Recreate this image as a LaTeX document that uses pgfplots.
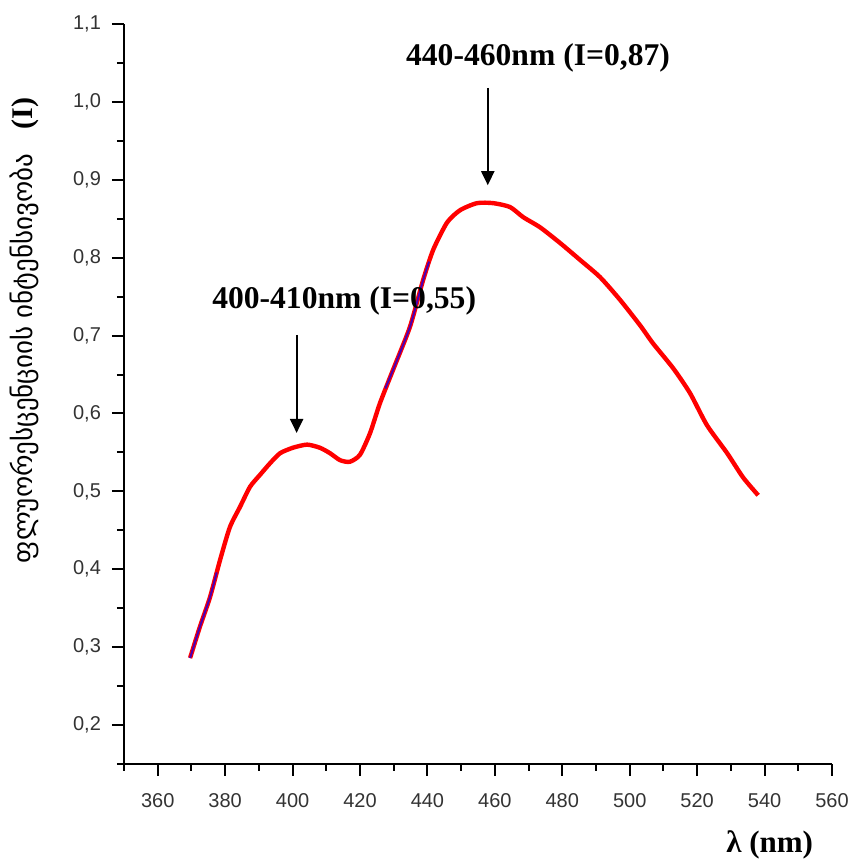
\documentclass[border=0pt]{standalone}
\usepackage{pgfplots}
\pgfplotsset{compat=1.18}
\usepackage{fontspec}
\setmainfont{Liberation Serif}
\setsansfont{Liberation Sans}
\newfontfamily\geofont{DejaVu Sans}
\usetikzlibrary{arrows.meta}
\begin{document}
\begin{tikzpicture}
\begin{axis}[
  name=ax,
  scale only axis,
  width=354pt, height=370pt,
  xmin=350, xmax=560, ymin=0.15, ymax=1.1,
  axis lines=left,
  axis line style={line width=1pt,-},
  tick align=outside,
  major tick length=6pt, minor tick length=3.5pt,
  every tick/.style={black,line width=1pt},
  xtick={360,380,...,560},
  minor xtick={350,370,...,550},
  ytick={0.2,0.3,...,1.1},
  minor ytick={0.15,0.25,...,1.05},
  xticklabel style={font=\sffamily\fontsize{10}{12}\selectfont,text=black!80,yshift=-5pt},
  yticklabel style={font=\sffamily\fontsize{10}{12}\selectfont,text=black!80,xshift=-2pt},
  /pgf/number format/assume math mode=true,
  x tick label style={/pgf/number format/1000 sep={}},
  y tick label style={/pgf/number format/.cd,fixed,fixed zerofill,precision=1,use comma},
  clip=false,
]
\addplot[red, line width=2.2pt, line join=round, smooth, tension=0.4] coordinates {
(369.6,0.286) (372.5,0.326) (375.5,0.364) (378.5,0.412) (381.4,0.454)
(384.4,0.480) (387.4,0.506) (390.3,0.521) (393.3,0.536) (396.3,0.549)
(400.1,0.556) (404.3,0.560) (408.1,0.556) (411.1,0.549) (414.1,0.540)
(417.0,0.538) (420.0,0.547) (423.0,0.575) (425.9,0.613) (429.8,0.656)
(434.8,0.711) (438.7,0.771) (441.7,0.810) (445.8,0.845) (449.7,0.861)
(454.7,0.870) (459.5,0.870) (464.5,0.865) (468.4,0.852) (473.4,0.839)
(479.3,0.819) (485.3,0.797) (491.2,0.775) (497.1,0.746) (503.1,0.713)
(506.9,0.690) (512.9,0.658) (517.9,0.626) (522.9,0.585) (528.9,0.549)
(533.6,0.518) (538.1,0.495)
};
\addplot[blue, opacity=0.7, line width=1pt, smooth, tension=0.4] coordinates {
(369.6,0.286) (372.5,0.326) (375.5,0.364) (377.5,0.396)
};
\addplot[blue, opacity=0.7, line width=1pt, smooth, tension=0.4] coordinates {
(427.5,0.632) (429.8,0.656) (434.8,0.711) (438.7,0.771) (440.5,0.795)
};
\node[anchor=base,font=\bfseries\fontsize{15.8}{18}\selectfont] at (axis cs:472.8,1.047) {440-460nm (I=0,87)};
\draw[line width=1pt,-{Triangle[length=7pt,width=6.5pt]}] (axis cs:457.9,1.018) -- (axis cs:457.9,0.893);
\node[anchor=base,font=\bfseries\fontsize{15.8}{18}\selectfont] at (axis cs:415.3,0.735) {400-410nm (I=0,55)};
\draw[line width=1pt,-{Triangle[length=7pt,width=6.5pt]}] (axis cs:401.2,0.701) -- (axis cs:401.2,0.575);
\node[rotate=90,anchor=center] at ([xshift=-50pt]rel axis cs:0,0.586) {\geofont\fontsize{13.5}{15}\selectfont ფლუორესცენციის ინტენსივობა\hspace{0.9em}{\rmfamily\bfseries\fontsize{15}{17}\selectfont(I)}};
\node[anchor=center,font=\bfseries\fontsize{15.5}{18}\selectfont] at ([yshift=-40.5pt]rel axis cs:0.912,0) {λ (nm)};
\end{axis}
\pgfresetboundingbox
\path[use as bounding box] ([shift={(-62pt,-51.5pt)}]ax.south west) rectangle ([shift={(10.5pt,12pt)}]ax.north east);
\end{tikzpicture}
\end{document}
